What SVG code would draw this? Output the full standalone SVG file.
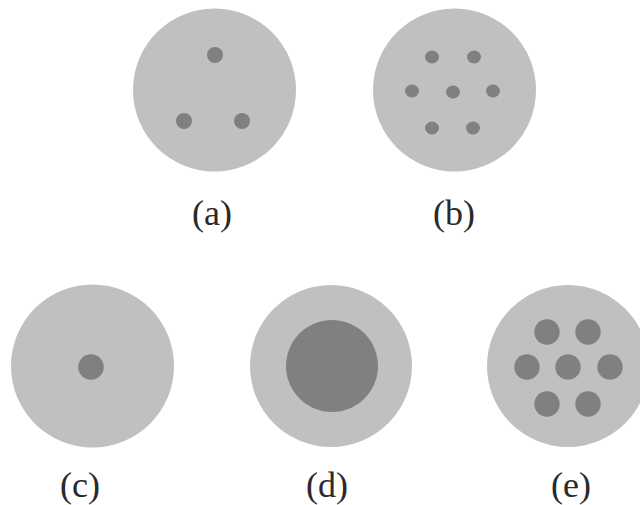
<svg xmlns="http://www.w3.org/2000/svg" width="640" height="505" viewBox="0 0 640 505">
<style>
.outer{fill:#c0c0c0}
.dot{fill:#808080}
.lbl{font-family:"Liberation Serif","Times New Roman",serif;font-size:36px;fill:#2a2a2a;text-anchor:middle}
</style>
<rect width="640" height="505" fill="#ffffff"/>
<g id="node-a">
<circle class="outer" cx="214.5" cy="90" r="81.5"/>
<circle class="dot" cx="215" cy="55" r="8"/>
<circle class="dot" cx="184" cy="121" r="8"/>
<circle class="dot" cx="242" cy="121" r="8"/>
<text class="lbl" x="212" y="225">(a)</text>
</g>
<g id="node-b">
<circle class="outer" cx="454.5" cy="90" r="81.5"/>
<ellipse class="dot" cx="432" cy="57" rx="7" ry="6.5"/>
<ellipse class="dot" cx="474" cy="57" rx="7" ry="6.5"/>
<ellipse class="dot" cx="412" cy="91" rx="7" ry="6.5"/>
<ellipse class="dot" cx="453" cy="92" rx="7" ry="6.5"/>
<ellipse class="dot" cx="493" cy="91" rx="7" ry="6.5"/>
<ellipse class="dot" cx="432" cy="128" rx="7" ry="6.5"/>
<ellipse class="dot" cx="473" cy="128" rx="7" ry="6.5"/>
<text class="lbl" x="454" y="225">(b)</text>
</g>
<g id="node-c">
<circle class="outer" cx="92.5" cy="366" r="81.5"/>
<circle class="dot" cx="91" cy="367" r="12.8"/>
<text class="lbl" x="80" y="497">(c)</text>
</g>
<g id="node-d">
<circle class="outer" cx="331" cy="366" r="81"/>
<circle class="dot" cx="332" cy="366" r="46"/>
<text class="lbl" x="327" y="497">(d)</text>
</g>
<g id="node-e">
<circle class="outer" cx="568" cy="366" r="81"/>
<circle class="dot" cx="547" cy="332" r="12.7"/>
<circle class="dot" cx="588" cy="332" r="12.7"/>
<circle class="dot" cx="527" cy="367" r="12.7"/>
<circle class="dot" cx="568" cy="367" r="12.7"/>
<circle class="dot" cx="610" cy="367" r="12.7"/>
<circle class="dot" cx="547" cy="404" r="12.7"/>
<circle class="dot" cx="588" cy="404" r="12.7"/>
<text class="lbl" x="571" y="497">(e)</text>
</g>
<g id="connectors"/>
</svg>
